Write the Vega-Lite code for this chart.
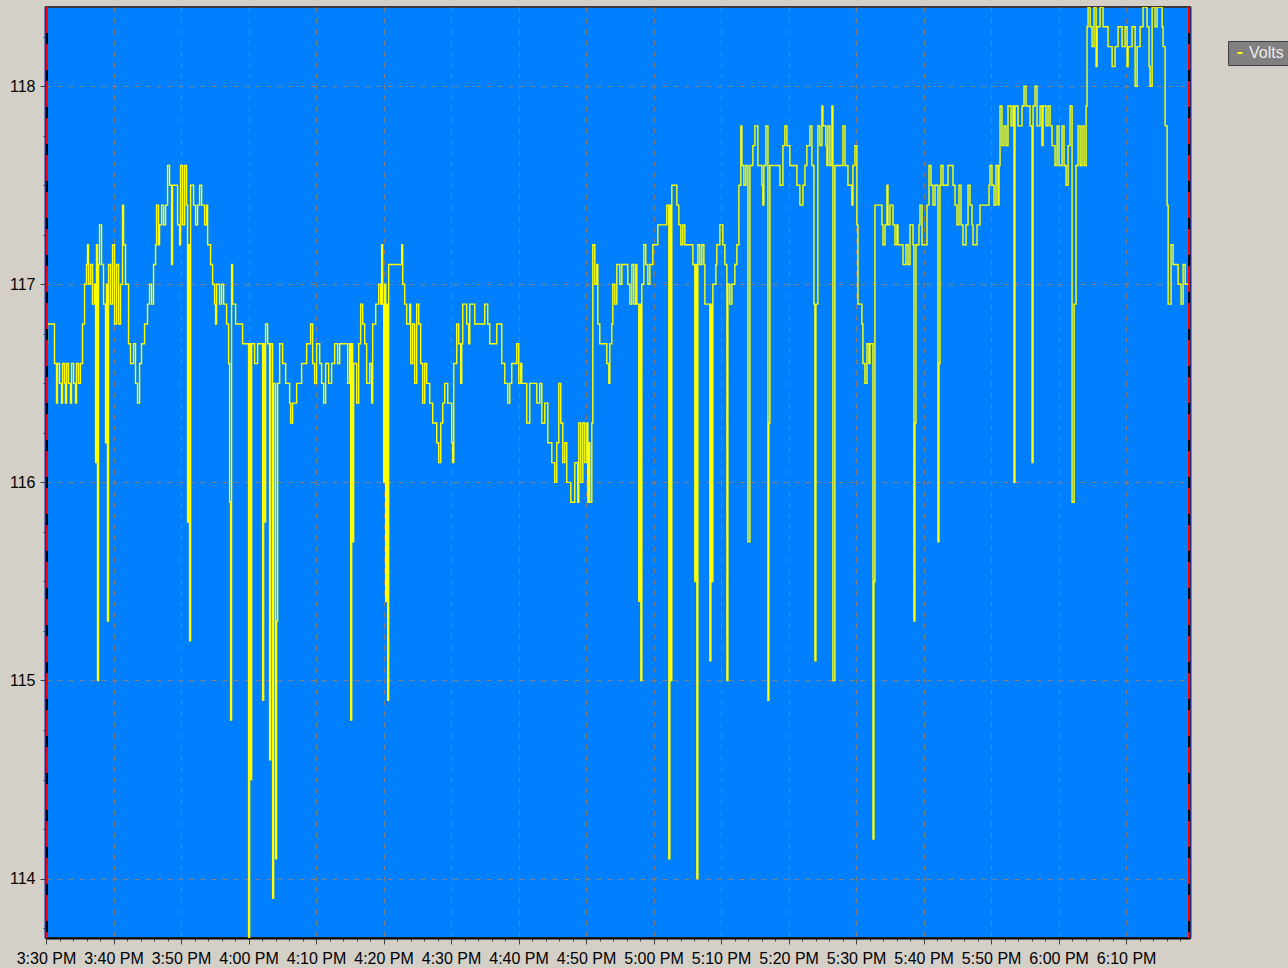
{
  "$schema": "https://vega.github.io/schema/vega-lite/v6.json",
  "autosize": "none",
  "width": 1144,
  "height": 931,
  "padding": {"left": 46, "top": 7, "right": 98, "bottom": 30},
  "background": "#D4D0C8",
  "config": {
    "view": {"fill": "#0080FF", "stroke": "#3a3a3a", "strokeWidth": 2},
    "font": "Liberation Sans"
  },
  "datasets": {
    "volts": [
      {"t":0,"v":116.7},{"t":0.22,"v":116.8},{"t":1.26,"v":116.6},{"t":1.56,"v":116.4},{"t":1.70,"v":116.6},{"t":2.00,"v":116.5},{"t":2.30,"v":116.4},{"t":2.45,"v":116.6},{"t":2.74,"v":116.5},{"t":2.89,"v":116.4},{"t":3.04,"v":116.6},{"t":3.33,"v":116.5},{"t":3.63,"v":116.4},{"t":3.78,"v":116.6},{"t":4.08,"v":116.5},{"t":4.37,"v":116.4},{"t":4.52,"v":116.6},{"t":4.82,"v":116.5},{"t":5.11,"v":116.6},{"t":5.41,"v":116.8},{"t":5.71,"v":117.0},{"t":6.00,"v":117.1},{"t":6.15,"v":117.2},{"t":6.30,"v":117.0},{"t":6.60,"v":117.1},{"t":6.89,"v":116.9},{"t":7.19,"v":117.0},{"t":7.34,"v":116.1},{"t":7.48,"v":117.2},{"t":7.63,"v":115.0},{"t":7.78,"v":117.1},{"t":7.93,"v":117.3},{"t":8.23,"v":117.1},{"t":8.52,"v":116.9},{"t":8.82,"v":116.2},{"t":8.97,"v":117.0},{"t":9.11,"v":115.3},{"t":9.26,"v":117.1},{"t":9.56,"v":116.9},{"t":9.86,"v":117.2},{"t":10.15,"v":116.8},{"t":10.45,"v":117.1},{"t":10.75,"v":116.8},{"t":11.04,"v":117.0},{"t":11.34,"v":117.4},{"t":11.49,"v":117.2},{"t":11.78,"v":117.0},{"t":12.23,"v":116.7},{"t":12.52,"v":116.6},{"t":12.97,"v":116.7},{"t":13.26,"v":116.5},{"t":13.56,"v":116.4},{"t":13.86,"v":116.6},{"t":14.15,"v":116.7},{"t":14.60,"v":116.8},{"t":15.04,"v":116.9},{"t":15.34,"v":117.0},{"t":15.64,"v":116.9},{"t":15.93,"v":117.1},{"t":16.23,"v":117.2},{"t":16.38,"v":117.4},{"t":16.67,"v":117.2},{"t":16.82,"v":117.3},{"t":17.12,"v":117.4},{"t":17.41,"v":117.3},{"t":17.71,"v":117.4},{"t":18.01,"v":117.6},{"t":18.30,"v":117.5},{"t":18.60,"v":117.1},{"t":18.75,"v":117.5},{"t":19.49,"v":117.3},{"t":19.79,"v":117.2},{"t":19.93,"v":117.6},{"t":20.23,"v":117.3},{"t":20.53,"v":117.6},{"t":20.82,"v":117.4},{"t":20.97,"v":115.8},{"t":21.12,"v":117.2},{"t":21.27,"v":115.2},{"t":21.42,"v":117.5},{"t":21.86,"v":117.4},{"t":22.16,"v":117.3},{"t":22.45,"v":117.4},{"t":22.75,"v":117.5},{"t":23.05,"v":117.4},{"t":23.49,"v":117.3},{"t":23.79,"v":117.4},{"t":23.94,"v":117.2},{"t":24.38,"v":117.1},{"t":24.68,"v":117.0},{"t":24.97,"v":116.9},{"t":25.12,"v":116.8},{"t":25.27,"v":117.0},{"t":25.71,"v":116.9},{"t":26.01,"v":117.0},{"t":26.31,"v":116.9},{"t":26.75,"v":116.8},{"t":27.05,"v":116.6},{"t":27.20,"v":115.9},{"t":27.34,"v":114.8},{"t":27.49,"v":117.1},{"t":27.64,"v":116.9},{"t":28.09,"v":116.8},{"t":29.12,"v":116.7},{"t":30.01,"v":113.7},{"t":30.16,"v":116.7},{"t":30.31,"v":114.5},{"t":30.46,"v":116.7},{"t":30.90,"v":116.6},{"t":31.35,"v":116.7},{"t":32.09,"v":114.9},{"t":32.24,"v":116.7},{"t":32.38,"v":115.8},{"t":32.53,"v":116.8},{"t":32.83,"v":116.7},{"t":33.12,"v":114.6},{"t":33.27,"v":116.7},{"t":33.57,"v":113.9},{"t":33.72,"v":116.5},{"t":34.01,"v":114.1},{"t":34.16,"v":115.3},{"t":34.31,"v":116.5},{"t":34.61,"v":116.7},{"t":35.05,"v":116.6},{"t":35.50,"v":116.5},{"t":36.09,"v":116.4},{"t":36.24,"v":116.3},{"t":36.53,"v":116.4},{"t":37.13,"v":116.5},{"t":37.87,"v":116.6},{"t":38.61,"v":116.7},{"t":39.20,"v":116.8},{"t":39.50,"v":116.6},{"t":39.79,"v":116.5},{"t":40.09,"v":116.7},{"t":40.54,"v":116.6},{"t":40.83,"v":116.5},{"t":41.13,"v":116.4},{"t":41.42,"v":116.6},{"t":41.87,"v":116.5},{"t":42.31,"v":116.6},{"t":42.76,"v":116.7},{"t":43.20,"v":116.6},{"t":43.50,"v":116.7},{"t":44.69,"v":116.5},{"t":44.98,"v":116.7},{"t":45.13,"v":114.8},{"t":45.28,"v":116.7},{"t":45.43,"v":115.7},{"t":45.57,"v":116.6},{"t":46.02,"v":116.4},{"t":46.32,"v":116.7},{"t":46.61,"v":116.9},{"t":46.91,"v":116.8},{"t":47.21,"v":116.7},{"t":47.50,"v":116.5},{"t":47.95,"v":116.6},{"t":48.24,"v":116.4},{"t":48.39,"v":116.8},{"t":48.84,"v":116.9},{"t":49.28,"v":117.0},{"t":49.58,"v":116.9},{"t":49.72,"v":117.2},{"t":49.87,"v":116.9},{"t":50.02,"v":116.0},{"t":50.17,"v":117.0},{"t":50.32,"v":115.4},{"t":50.46,"v":116.9},{"t":50.61,"v":114.9},{"t":50.76,"v":117.1},{"t":52.69,"v":117.2},{"t":52.84,"v":117.0},{"t":53.13,"v":116.9},{"t":53.43,"v":116.8},{"t":53.87,"v":116.9},{"t":54.02,"v":116.6},{"t":54.31,"v":116.8},{"t":54.61,"v":116.5},{"t":54.91,"v":116.9},{"t":55.21,"v":116.8},{"t":55.50,"v":116.6},{"t":55.80,"v":116.4},{"t":56.10,"v":116.6},{"t":56.39,"v":116.5},{"t":56.84,"v":116.4},{"t":57.28,"v":116.3},{"t":57.88,"v":116.2},{"t":58.17,"v":116.1},{"t":58.47,"v":116.3},{"t":58.77,"v":116.4},{"t":59.06,"v":116.5},{"t":59.51,"v":116.4},{"t":60.10,"v":116.2},{"t":60.25,"v":116.1},{"t":60.40,"v":116.6},{"t":60.84,"v":116.8},{"t":61.14,"v":116.7},{"t":61.43,"v":116.5},{"t":61.58,"v":116.7},{"t":61.73,"v":116.9},{"t":62.32,"v":116.8},{"t":62.62,"v":116.7},{"t":62.77,"v":116.9},{"t":63.51,"v":116.8},{"t":64.99,"v":116.9},{"t":65.43,"v":116.8},{"t":65.73,"v":116.7},{"t":66.77,"v":116.8},{"t":67.51,"v":116.6},{"t":67.96,"v":116.5},{"t":68.40,"v":116.4},{"t":68.70,"v":116.5},{"t":68.99,"v":116.6},{"t":69.73,"v":116.7},{"t":70.03,"v":116.5},{"t":70.33,"v":116.6},{"t":70.47,"v":116.5},{"t":71.21,"v":116.3},{"t":71.66,"v":116.5},{"t":72.70,"v":116.4},{"t":73.14,"v":116.5},{"t":73.44,"v":116.3},{"t":73.88,"v":116.4},{"t":74.33,"v":116.2},{"t":74.92,"v":116.1},{"t":75.36,"v":116.0},{"t":75.66,"v":116.2},{"t":75.96,"v":116.5},{"t":76.25,"v":116.3},{"t":76.55,"v":116.1},{"t":76.85,"v":116.2},{"t":77.14,"v":116.0},{"t":77.74,"v":115.9},{"t":78.33,"v":116.1},{"t":78.77,"v":115.9},{"t":78.92,"v":116.3},{"t":79.22,"v":116.0},{"t":79.52,"v":116.3},{"t":79.81,"v":116.1},{"t":80.11,"v":116.3},{"t":80.26,"v":115.9},{"t":80.41,"v":116.2},{"t":80.55,"v":115.9},{"t":80.85,"v":116.3},{"t":81.00,"v":117.2},{"t":81.29,"v":117.0},{"t":81.59,"v":117.1},{"t":81.74,"v":116.8},{"t":82.03,"v":116.7},{"t":83.07,"v":116.6},{"t":83.37,"v":116.5},{"t":83.52,"v":116.7},{"t":83.81,"v":116.8},{"t":83.96,"v":117.0},{"t":84.26,"v":116.9},{"t":84.56,"v":117.1},{"t":85.00,"v":117.0},{"t":85.30,"v":117.1},{"t":86.18,"v":117.0},{"t":86.48,"v":116.9},{"t":86.78,"v":117.1},{"t":87.07,"v":116.9},{"t":87.37,"v":117.1},{"t":87.52,"v":116.9},{"t":87.81,"v":115.4},{"t":87.96,"v":116.9},{"t":88.11,"v":115.0},{"t":88.26,"v":117.0},{"t":88.56,"v":117.2},{"t":88.85,"v":117.1},{"t":89.15,"v":117.0},{"t":89.45,"v":117.1},{"t":89.89,"v":117.2},{"t":90.63,"v":117.3},{"t":91.96,"v":117.4},{"t":92.26,"v":114.1},{"t":92.41,"v":117.4},{"t":92.56,"v":115.0},{"t":92.70,"v":117.5},{"t":93.45,"v":117.4},{"t":93.74,"v":117.3},{"t":94.04,"v":117.2},{"t":94.33,"v":117.3},{"t":94.63,"v":117.2},{"t":95.82,"v":117.1},{"t":96.11,"v":115.5},{"t":96.26,"v":117.1},{"t":96.41,"v":114.0},{"t":96.56,"v":117.2},{"t":96.85,"v":117.1},{"t":97.15,"v":117.2},{"t":97.45,"v":117.1},{"t":97.60,"v":116.9},{"t":98.34,"v":115.1},{"t":98.49,"v":116.9},{"t":98.63,"v":115.5},{"t":98.78,"v":117.0},{"t":99.23,"v":117.1},{"t":99.37,"v":117.2},{"t":99.82,"v":117.3},{"t":100.26,"v":117.2},{"t":100.56,"v":117.1},{"t":100.86,"v":115.0},{"t":101.01,"v":117.0},{"t":101.30,"v":116.9},{"t":101.60,"v":117.0},{"t":102.04,"v":117.1},{"t":102.34,"v":117.2},{"t":102.64,"v":117.5},{"t":102.93,"v":117.8},{"t":103.08,"v":117.6},{"t":103.38,"v":117.5},{"t":103.67,"v":117.6},{"t":103.97,"v":115.7},{"t":104.27,"v":117.6},{"t":104.71,"v":117.7},{"t":105.01,"v":117.8},{"t":105.45,"v":117.6},{"t":106.05,"v":117.5},{"t":106.19,"v":117.4},{"t":106.34,"v":117.6},{"t":106.64,"v":117.8},{"t":106.94,"v":114.9},{"t":107.08,"v":116.3},{"t":107.23,"v":117.6},{"t":108.71,"v":117.5},{"t":109.16,"v":117.7},{"t":109.45,"v":117.8},{"t":109.75,"v":117.7},{"t":110.19,"v":117.6},{"t":111.23,"v":117.5},{"t":111.67,"v":117.4},{"t":112.12,"v":117.5},{"t":112.42,"v":117.6},{"t":112.71,"v":117.7},{"t":113.16,"v":117.8},{"t":113.45,"v":117.6},{"t":113.75,"v":116.9},{"t":113.90,"v":115.1},{"t":114.05,"v":116.9},{"t":114.34,"v":117.8},{"t":114.64,"v":117.7},{"t":114.94,"v":117.9},{"t":115.08,"v":117.8},{"t":115.53,"v":117.7},{"t":115.68,"v":117.6},{"t":115.82,"v":117.8},{"t":116.12,"v":117.6},{"t":116.42,"v":117.9},{"t":116.57,"v":115.0},{"t":116.86,"v":117.6},{"t":118.05,"v":117.8},{"t":118.35,"v":117.6},{"t":118.79,"v":117.5},{"t":119.38,"v":117.4},{"t":119.53,"v":117.6},{"t":119.83,"v":117.7},{"t":120.12,"v":117.3},{"t":120.27,"v":116.9},{"t":120.86,"v":116.8},{"t":121.01,"v":116.6},{"t":121.31,"v":116.5},{"t":121.61,"v":116.7},{"t":121.90,"v":116.6},{"t":122.05,"v":116.7},{"t":122.50,"v":114.2},{"t":122.64,"v":115.5},{"t":122.79,"v":117.4},{"t":123.83,"v":117.3},{"t":123.98,"v":117.2},{"t":124.28,"v":117.3},{"t":124.57,"v":117.5},{"t":124.72,"v":117.3},{"t":125.02,"v":117.4},{"t":125.46,"v":117.3},{"t":125.76,"v":117.2},{"t":126.05,"v":117.3},{"t":126.20,"v":117.2},{"t":126.95,"v":117.1},{"t":127.39,"v":117.2},{"t":127.69,"v":117.1},{"t":127.98,"v":117.3},{"t":128.43,"v":117.2},{"t":128.57,"v":115.3},{"t":128.72,"v":116.3},{"t":128.87,"v":117.2},{"t":129.31,"v":117.3},{"t":129.46,"v":117.4},{"t":129.76,"v":117.2},{"t":130.50,"v":117.4},{"t":130.80,"v":117.6},{"t":131.09,"v":117.5},{"t":131.39,"v":117.4},{"t":131.69,"v":117.5},{"t":132.13,"v":115.7},{"t":132.28,"v":116.6},{"t":132.43,"v":117.5},{"t":132.57,"v":117.6},{"t":132.87,"v":117.5},{"t":133.61,"v":117.6},{"t":134.35,"v":117.5},{"t":134.65,"v":117.4},{"t":134.95,"v":117.3},{"t":135.24,"v":117.5},{"t":135.54,"v":117.3},{"t":135.83,"v":117.2},{"t":136.28,"v":117.3},{"t":136.58,"v":117.5},{"t":136.87,"v":117.4},{"t":137.17,"v":117.3},{"t":137.32,"v":117.2},{"t":137.91,"v":117.3},{"t":138.35,"v":117.4},{"t":139.69,"v":117.5},{"t":139.84,"v":117.6},{"t":140.13,"v":117.5},{"t":140.43,"v":117.4},{"t":140.72,"v":117.6},{"t":141.02,"v":117.4},{"t":141.17,"v":117.6},{"t":141.32,"v":117.9},{"t":141.61,"v":117.7},{"t":141.91,"v":117.8},{"t":142.21,"v":117.7},{"t":142.50,"v":117.9},{"t":142.95,"v":117.8},{"t":143.24,"v":117.9},{"t":143.39,"v":116.0},{"t":143.54,"v":117.9},{"t":143.99,"v":117.8},{"t":144.58,"v":117.9},{"t":144.87,"v":118.0},{"t":145.17,"v":117.9},{"t":145.76,"v":117.8},{"t":146.06,"v":116.1},{"t":146.21,"v":117.9},{"t":146.51,"v":118.0},{"t":146.80,"v":117.8},{"t":147.25,"v":117.9},{"t":147.54,"v":117.7},{"t":147.69,"v":117.9},{"t":148.13,"v":117.8},{"t":148.43,"v":117.9},{"t":148.73,"v":117.8},{"t":149.03,"v":117.7},{"t":149.47,"v":117.6},{"t":149.77,"v":117.8},{"t":150.06,"v":117.6},{"t":150.51,"v":117.8},{"t":150.80,"v":117.6},{"t":151.10,"v":117.5},{"t":151.40,"v":117.7},{"t":151.69,"v":117.9},{"t":151.99,"v":115.9},{"t":152.29,"v":116.9},{"t":152.58,"v":117.6},{"t":152.88,"v":117.8},{"t":153.18,"v":117.6},{"t":153.47,"v":117.8},{"t":153.77,"v":117.6},{"t":154.07,"v":117.9},{"t":154.21,"v":118.3},{"t":154.36,"v":118.4},{"t":154.66,"v":118.3},{"t":154.95,"v":118.2},{"t":155.25,"v":118.4},{"t":155.55,"v":118.1},{"t":155.70,"v":118.3},{"t":156.14,"v":118.4},{"t":156.58,"v":118.3},{"t":157.32,"v":118.2},{"t":157.92,"v":118.1},{"t":158.36,"v":118.2},{"t":158.81,"v":118.3},{"t":159.40,"v":118.2},{"t":159.84,"v":118.3},{"t":160.14,"v":118.1},{"t":160.29,"v":118.2},{"t":160.88,"v":118.3},{"t":161.33,"v":118.0},{"t":161.62,"v":118.2},{"t":162.07,"v":118.3},{"t":162.51,"v":118.4},{"t":163.10,"v":118.3},{"t":163.40,"v":118.1},{"t":163.55,"v":118.0},{"t":163.85,"v":118.4},{"t":164.29,"v":118.3},{"t":164.59,"v":118.4},{"t":165.33,"v":118.3},{"t":165.47,"v":118.2},{"t":165.77,"v":117.8},{"t":166.07,"v":117.4},{"t":166.22,"v":116.9},{"t":166.66,"v":117.2},{"t":166.96,"v":117.1},{"t":167.70,"v":117.0},{"t":168.14,"v":116.9},{"t":168.44,"v":117.1},{"t":168.74,"v":117.0},{"t":169.46,"v":117.0}
    ]
  },
  "layer": [
    {
      "data": {"name": "volts"},
      "mark": {"type": "line", "interpolate": "step-after", "strokeWidth": 1.4, "clip": true},
      "encoding": {
        "x": {
          "field": "t",
          "type": "quantitative",
          "scale": {"domain": [0, 169.46], "nice": false, "zero": false},
          "axis": {
            "title": null,
            "tickCount": 500,
            "values": [0,2,4,6,8,10,12,14,16,18,20,22,24,26,28,30,32,34,36,38,40,42,44,46,48,50,52,54,56,58,60,62,64,66,68,70,72,74,76,78,80,82,84,86,88,90,92,94,96,98,100,102,104,106,108,110,112,114,116,118,120,122,124,126,128,130,132,134,136,138,140,142,144,146,148,150,152,154,156,158,160,162,164,166,168],
            "labelExpr": "datum.value % 10 === 0 ? timeFormat(datetime(2020, 0, 1, 15, 30 + datum.value), '%-I:%M %p') : ''",
            "labelFont": "Liberation Sans",
            "labelFontSize": 16,
            "labelColor": "#000000",
            "labelPadding": 6,
            "labelOverlap": false,
            "labelFlush": false,
            "labelBound": false,
            "tickColor": "#404040",
            "tickSize": {"condition": {"test": "datum.value % 10 !== 0", "value": 3}, "value": 6},
            "domainColor": "#000000",
            "domainWidth": 2,
            "grid": true,
            "gridColor": "#7f7f7f",
            "gridDash": [5, 6],
            "gridWidth": 1,
            "gridOpacity": {"condition": {"test": "datum.value % 10 !== 0", "value": 0}, "value": 1}
          }
        },
        "y": {
          "field": "v",
          "type": "quantitative",
          "scale": {"domain": [113.7, 118.4], "nice": false, "zero": false},
          "axis": {
            "title": null,
            "tickCount": 500,
            "values": [113.75,114,114.25,114.5,114.75,115,115.25,115.5,115.75,116,116.25,116.5,116.75,117,117.25,117.5,117.75,118,118.25],
            "labelExpr": "datum.value % 1 === 0 ? format(datum.value, 'd') : ''",
            "labelFont": "Liberation Sans",
            "labelFontSize": 16,
            "labelColor": "#000000",
            "labelPadding": 5,
            "labelOverlap": false,
            "tickColor": "#404040",
            "tickSize": {"condition": {"test": "datum.value % 1 !== 0", "value": 3}, "value": 6},
            "domain": false,
            "grid": true,
            "gridColor": "#7f7f7f",
            "gridDash": [5, 6],
            "gridWidth": 1,
            "gridOpacity": {"condition": {"test": "datum.value % 1 !== 0", "value": 0}, "value": 1}
          }
        },
        "color": {
          "datum": "Volts",
          "type": "nominal",
          "scale": {"range": ["#FFFF00"]},
          "legend": {
            "title": null,
            "orient": "none",
            "legendX": 1182,
            "legendY": 34,
            "fillColor": "#808080",
            "strokeColor": "#404040",
            "padding": 4,
            "labelColor": "#EEEEEE",
            "labelFont": "Liberation Sans",
            "labelFontSize": 16,
            "labelOffset": 1,
            "symbolType": "stroke",
            "symbolSize": 25,
            "symbolStrokeWidth": 2
          }
        }
      }
    },
    {
      "data": {"values": [{}]},
      "mark": {"type": "rule", "color": "#1020C0", "strokeWidth": 1, "xOffset": -1},
      "encoding": {"x": {"datum": 0}}
    },
    {
      "data": {"values": [{}]},
      "mark": {"type": "rule", "color": "#FF0000", "strokeWidth": 2, "xOffset": 1},
      "encoding": {"x": {"datum": 0}}
    },
    {
      "data": {"values": [{}]},
      "mark": {"type": "rule", "color": "#000000", "strokeWidth": 2, "xOffset": 1, "strokeDash": [11, 26], "strokeDashOffset": 11},
      "encoding": {"x": {"datum": 0}}
    },
    {
      "data": {"values": [{}]},
      "mark": {"type": "rule", "color": "#FF0000", "strokeWidth": 2, "xOffset": -1},
      "encoding": {"x": {"datum": 169.46}}
    },
    {
      "data": {"values": [{}]},
      "mark": {"type": "rule", "color": "#000000", "strokeWidth": 2, "xOffset": -1, "strokeDash": [11, 26], "strokeDashOffset": 11},
      "encoding": {"x": {"datum": 169.46}}
    },
    {
      "data": {"values": [{}]},
      "mark": {"type": "rule", "color": "#1020C0", "strokeWidth": 1, "xOffset": 1},
      "encoding": {"x": {"datum": 169.46}}
    }
  ]
}
